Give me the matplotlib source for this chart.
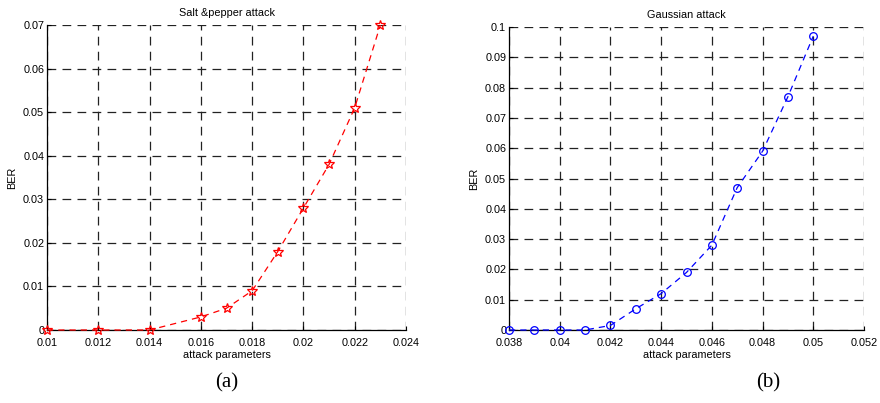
import matplotlib
matplotlib.use("Agg")
import matplotlib.pyplot as plt
import numpy as np

# Data
sp_x = [0.010, 0.012, 0.014, 0.016, 0.017, 0.018, 0.019, 0.020, 0.021, 0.022, 0.023]
sp_ber = [0.0, 0.0, 0.0, 0.003, 0.005, 0.009, 0.018, 0.028, 0.038, 0.051, 0.070]
sp_xticks = [0.01, 0.012, 0.014, 0.016, 0.018, 0.02, 0.022, 0.024]
sp_xticklabels = ["0.01", "0.012", "0.014", "0.016", "0.018", "0.02", "0.022", "0.024"]
sp_yticks = [0, 0.01, 0.02, 0.03, 0.04, 0.05, 0.06, 0.07]
sp_yticklabels = ["0", "0.01", "0.02", "0.03", "0.04", "0.05", "0.06", "0.07"]

g_x = [0.038, 0.039, 0.040, 0.041, 0.042, 0.043, 0.044, 0.045, 0.046, 0.047, 0.048, 0.049, 0.050]
g_ber = [0.0, 0.0, 0.0, 0.0, 0.0015, 0.007, 0.012, 0.019, 0.028, 0.047, 0.059, 0.077, 0.097]
g_xticks = [0.038, 0.04, 0.042, 0.044, 0.046, 0.048, 0.05, 0.052]
g_xticklabels = ["0.038", "0.04", "0.042", "0.044", "0.046", "0.048", "0.05", "0.052"]
g_yticks = [0, 0.01, 0.02, 0.03, 0.04, 0.05, 0.06, 0.07, 0.08, 0.09, 0.1]
g_yticklabels = ["0", "0.01", "0.02", "0.03", "0.04", "0.05", "0.06", "0.07", "0.08", "0.09", "0.1"]

plt.rcParams['font.family'] = ['Liberation Sans', 'DejaVu Sans']

fig = plt.figure(figsize=(8.8, 4.03), dpi=100)
ax1 = fig.add_axes([47/880, 73/403, 359/880, 305/403])
ax2 = fig.add_axes([509/880, 73/403, 355/880, 303/403])

def style(ax, xticks, xtl, yticks, ytl, xlim, ylim, title):
    ax.set_xlim(*xlim)
    ax.set_ylim(*ylim)
    ax.set_xticks(xticks)
    ax.set_xticklabels(xtl)
    ax.set_yticks(yticks)
    ax.set_yticklabels(ytl)
    ax.tick_params(direction='in', length=3, labelsize=7.8, width=0.8)
    ax.tick_params(axis='x', pad=5.5)
    ax.tick_params(axis='y', pad=2)
    ax.grid(True, color='#222222', linestyle=(0, (7, 5)), linewidth=0.9)
    ax.spines['top'].set_visible(False)
    ax.spines['right'].set_visible(False)
    ax.spines['left'].set_linewidth(0.9)
    ax.spines['bottom'].set_linewidth(0.9)
    ax.set_xlabel("attack parameters", fontsize=7.8, labelpad=2)
    ax.set_ylabel("BER", fontsize=7.8, labelpad=4)
    ax.set_title(title, fontsize=7.8, pad=6.5)
    ax.set_axisbelow(True)

ax1.plot(sp_x, sp_ber, linestyle=(0, (5, 4)), color='red', linewidth=0.9,
         marker='*', markersize=7, markerfacecolor='none', markeredgecolor='red',
         markeredgewidth=0.9, clip_on=False, zorder=3)
style(ax1, sp_xticks, sp_xticklabels, sp_yticks, sp_yticklabels,
      (0.01, 0.024), (0, 0.07), "Salt &pepper attack")

ax2.plot(g_x, g_ber, linestyle=(0, (5, 4)), color='blue', linewidth=0.9,
         marker='o', markersize=5.5, markerfacecolor='none', markeredgecolor='blue',
         markeredgewidth=0.9, clip_on=False, zorder=3)
style(ax2, g_xticks, g_xticklabels, g_yticks, g_yticklabels,
      (0.038, 0.052), (0, 0.1), "Gaussian attack")

fig.text(227/880, 1 - 383/403, "(a)", fontsize=15, family=['Liberation Serif'],
         ha='center', va='center')
fig.text(768/880, 1 - 383/403, "(b)", fontsize=15, family=['Liberation Serif'],
         ha='center', va='center')

fig.savefig("out.png", dpi=100)
